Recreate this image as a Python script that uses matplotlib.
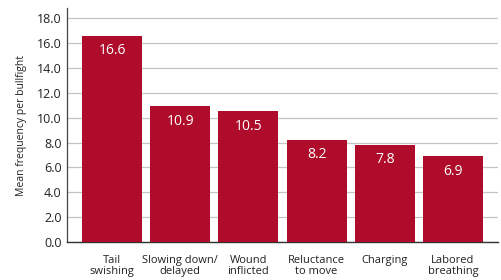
import matplotlib
matplotlib.use("Agg")
import matplotlib.pyplot as plt

categories = ["Tail\nswishing", "Slowing down/\ndelayed", "Wound\ninflicted",
              "Reluctance\nto move", "Charging", "Labored\nbreathing"]
values = [16.6, 10.9, 10.5, 8.2, 7.8, 6.9]
yticks = [0, 2, 4, 6, 8, 10, 12, 14, 16, 18]

plt.rcParams['font.family'] = ['Open Sans', 'DejaVu Sans']

fig = plt.figure(figsize=(5.02, 2.8), dpi=100)
ax = fig.add_axes([0.1335, 0.1357, 0.8585, 0.835])

x = list(range(len(values)))
bars = ax.bar(x, values, width=0.88, color="#AE0C2A", zorder=3)
for xi, v in zip(x, values):
    ax.text(xi, v - 1.2, f"{v:.1f}", ha="center", va="center",
            color="white", fontsize=10, zorder=4)

ax.set_xlim(-0.66, 5.66)
ax.set_ylim(0, 18.8)
ax.set_yticks(yticks)
ax.set_yticklabels([f"{t:.1f}" for t in yticks], fontsize=9, color="#222222")
ax.set_xticks(x)
ax.set_xticklabels(categories, fontsize=8, color="#222222", linespacing=1.05)
ax.tick_params(axis="both", length=0)
ax.tick_params(axis="x", pad=9)
ax.tick_params(axis="y", pad=4)
ax.yaxis.grid(True, color="#c4c4c4", linewidth=0.9, zorder=0)
ax.set_axisbelow(True)
for s in ["top", "right"]:
    ax.spines[s].set_visible(False)
ax.spines["left"].set_color("#444444")
ax.spines["bottom"].set_color("#333333")
ax.spines["left"].set_linewidth(0.9)
ax.spines["bottom"].set_linewidth(1.0)
ax.set_ylabel("Mean frequency per bullfight", fontsize=7.5, color="#222222", labelpad=7)

fig.savefig("out.png", dpi=100)
